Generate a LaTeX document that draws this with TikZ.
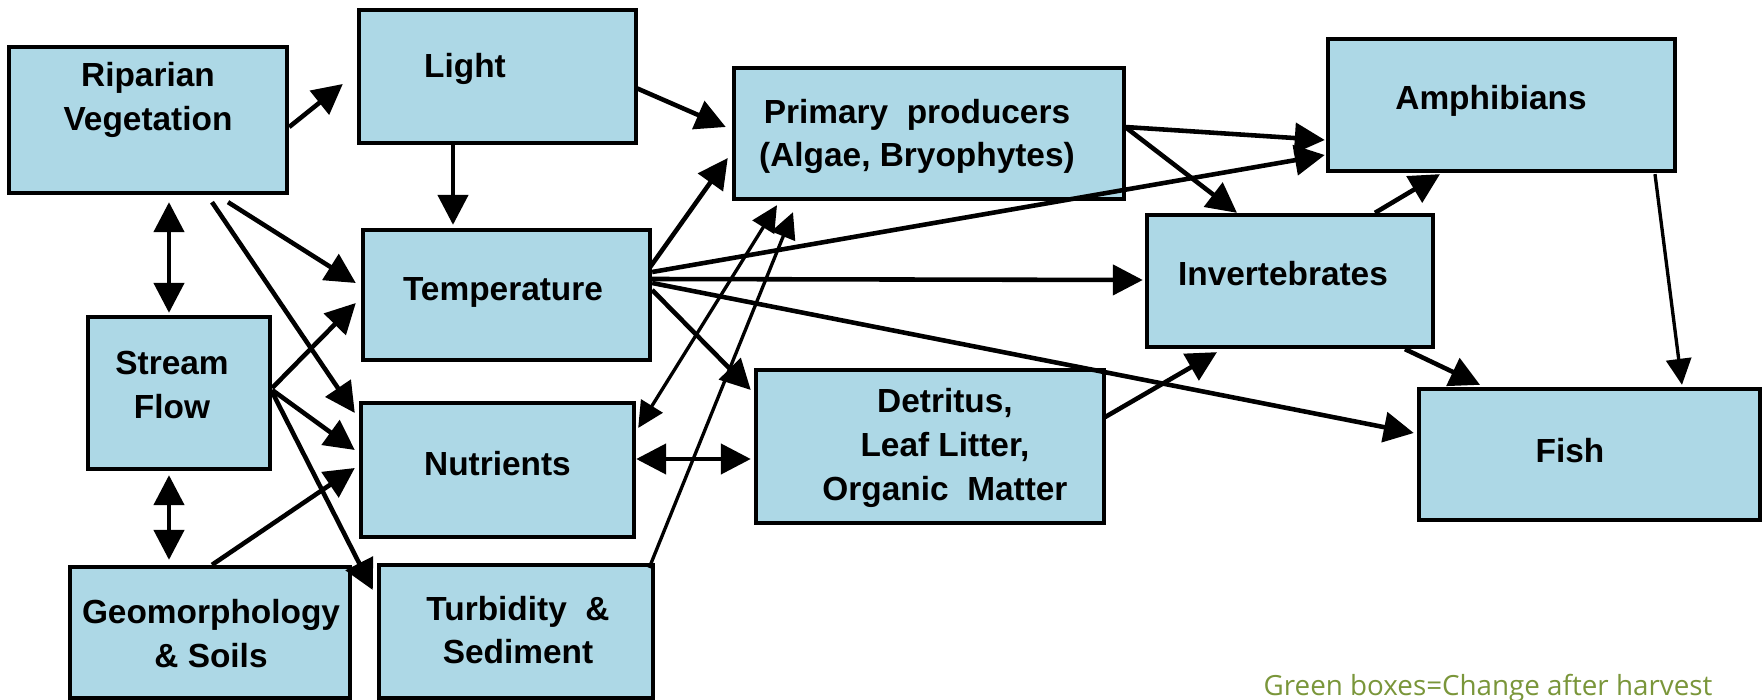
\documentclass[tikz,border=0pt]{standalone}
\usepackage{fontspec}
\setmainfont{Liberation Sans}
\newfontfamily\notefont{Open Sans}
\usetikzlibrary{arrows.meta,calc}
\definecolor{boxblue}{RGB}{173,216,230}
\definecolor{notegreen}{RGB}{122,150,58}

\begin{document}
\begin{tikzpicture}[x=0.01cm,y=-0.01cm,>={Triangle[length=3mm,width=3mm]},
  box/.style={draw,line width=1.2pt,fill=boxblue,inner sep=0pt},
  lbl/.style={align=center,inner sep=0pt,font=\fontsize{9.5}{12.4}\selectfont\bfseries},
  arr/.style={->,line width=1.3pt},
  tarr/.style={line width=0.95pt,>={Triangle[length=2.6mm,width=2.5mm]}}]
\fill[white] (0,0) rectangle (1762,700);
\useasboundingbox (0,0) rectangle (1762,700);
\node[box,minimum width=2.78cm,minimum height=1.46cm] (rip) at (148,120) {};
\node[box,minimum width=2.77cm,minimum height=1.33cm] (light) at (497.5,76.5) {};
\node[box,minimum width=3.90cm,minimum height=1.31cm] (prim) at (929,133.5) {};
\node[box,minimum width=3.47cm,minimum height=1.32cm] (amph) at (1501.5,105) {};
\node[box,minimum width=2.87cm,minimum height=1.30cm] (temp) at (506.5,295) {};
\node[box,minimum width=2.86cm,minimum height=1.32cm] (inv) at (1290,281) {};
\node[box,minimum width=1.82cm,minimum height=1.52cm] (stream) at (179,393) {};
\node[box,minimum width=2.73cm,minimum height=1.34cm] (nutr) at (497.5,470) {};
\node[box,minimum width=3.48cm,minimum height=1.53cm] (detr) at (930,446.5) {};
\node[box,minimum width=3.41cm,minimum height=1.31cm] (fish) at (1589.5,454.5) {};
\node[box,minimum width=2.80cm,minimum height=1.31cm] (geo) at (210,632.5) {};
\node[box,minimum width=2.74cm,minimum height=1.33cm] (turb) at (516,631.5) {};
\node[lbl] (rip-t) at ($(rip)+(0,-20)$) {Riparian\\Vegetation};
\node[lbl] (light-t) at ($(light)+(-32.5,-8)$) {Light};
\node[lbl] (prim-t) at ($(prim)+(-12,3)$) {Primary\ \ producers\\(Algae,\ Bryophytes)};
\node[lbl] (amph-t) at ($(amph)+(-10.5,-4)$) {Amphibians};
\node[lbl] (temp-t) at ($(temp)+(-3.5,-3)$) {Temperature};
\node[lbl] (inv-t) at ($(inv)+(-7,-7.5)$) {Invertebrates};
\node[lbl] (stream-t) at ($(stream)+(-7,-8)$) {Stream\\Flow};
\node[lbl] (nutr-t) at ($(nutr)+(0,-6.5)$) {Nutrients};
\node[lbl] (detr-t) at ($(detr)+(15,1.5)$) {Detritus,\\Leaf Litter,\\Organic\ \ Matter};
\node[lbl] (fish-t) at ($(fish)+(-19.5,-3.5)$) {Fish};
\node[lbl] (geo-t) at ($(geo)+(1,1)$) {Geomorphology\\\& Soils};
\node[lbl] (turb-t) at ($(turb)+(2,-1.5)$) {Turbidity \ \&\\Sediment};
\node[anchor=base west,inner sep=0pt,text=notegreen,font=\notefont\fontsize{7.9}{9}\selectfont] (note) at (1263,695) {Green boxes=Change after harvest};
\draw[arr] ($(rip.east)+(0,7)$) -- ($(light.west)+(-14,7.5)$);
\draw[arr] ($(light.east)+(-2,11.5)$) -- ($(prim.west)+(-6,-6.5)$);
\draw[arr] ($(light.south)+(-44.5,0)$) -- ($(temp.north)+(-53.5,-3)$);
\draw[arr,<->] ($(rip.south)+(21,7)$) -- ($(stream.north)+(-10,-2)$);
\draw[arr] ($(rip.south)+(80,7)$) -- ($(temp.west)+(-5,-12)$);
\draw[arr] ($(rip.south)+(64,7)$) -- ($(nutr.west)+(-4,-57)$);
\draw[arr] ($(stream.east)+(0,-5)$) -- ($(temp.west)+(-5,8)$);
\draw[arr] ($(stream.east)+(0,-3)$) -- ($(nutr.west)+(-4,-20)$);
\draw[arr] ($(stream.east)+(0,-1)$) -- ($(turb.west)+(-4,-41.5)$);
\draw[arr,<->] ($(stream.south)+(-10,4)$) -- ($(geo.north)+(-41,-5)$);
\draw[arr] ($(geo.north)+(2,0)$) -- ($(nutr.west)+(-4,-2)$);
\draw[arr] ($(temp.east)+(-2,-28)$) -- ($(prim.west)+(-4,24.5)$);
\draw[arr] ($(temp.east)+(0,-23)$) -- ($(amph.west)+(-1,50)$);
\draw[arr] ($(temp.east)+(0,-16)$) -- ($(inv.west)+(-2,-1)$);
\draw[arr] ($(temp.east)+(0,-12)$) -- ($(fish.west)+(-3,-21.5)$);
\draw[arr] ($(temp.east)+(0,-5)$) -- ($(detr.west)+(-3,-56.5)$);
\draw[tarr,<->] ($(prim.south)+(-152,4)$) -- ($(nutr.east)+(2,-42)$);
\draw[tarr,->] ($(turb.north east)+(-6,5)$) -- ($(prim.south)+(-136,11)$);
\draw[arr,<->] ($(nutr.east)+(0,-11)$) -- ($(detr.west)+(-3,12.5)$);
\draw[arr] ($(detr.east)+(-1,-29.5)$) -- ($(inv.south)+(-73,3)$);
\draw[arr] ($(prim.east)+(-1,-6.5)$) -- ($(amph.west)+(-1,35)$);
\draw[arr] ($(prim.east)+(-1,-6.5)$) -- ($(inv.north)+(-53,0)$);
\draw[arr] ($(inv.north)+(85,0)$) -- ($(amph.south)+(-61.5,1)$);
\draw[arr] ($(inv.south)+(115,0)$) -- ($(fish.north)+(-109.5,-2)$);
\draw[tarr,->] ($(amph.south)+(153.5,1)$) -- ($(fish.north)+(92.5,-2)$);
\end{tikzpicture}
\end{document}
